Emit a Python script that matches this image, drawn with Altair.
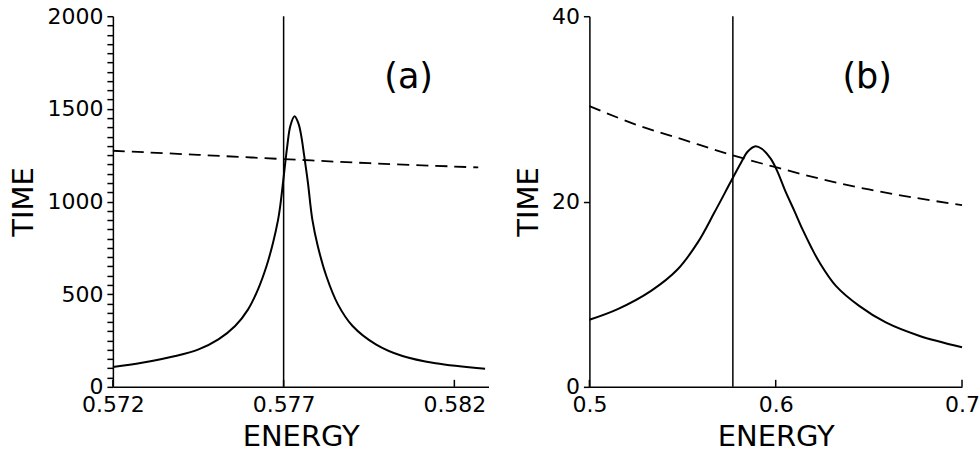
import altair as alt
import pandas as pd

# ---- Panel (a): narrow energy window around the resonance ----
energy_a_solid = [0.5720, 0.57285, 0.57383, 0.57451, 0.57509, 0.57558, 0.57596,
                  0.57625, 0.57650, 0.57669, 0.57684, 0.57690, 0.57700, 0.57710,
                  0.57720, 0.57732, 0.57744, 0.57752, 0.57760, 0.57771, 0.57784,
                  0.57800, 0.57825, 0.57859, 0.57902, 0.57970, 0.58048, 0.58145,
                  0.58290]
time_a_solid = [107, 130, 166, 202, 256, 328, 418,
                526, 652, 778, 904, 975, 1130, 1290,
                1410, 1460, 1418, 1350, 1250, 1104, 904,
                760, 598, 445, 328, 229, 166, 127,
                98]

energy_a_dash = [0.5720, 0.5745, 0.5770, 0.5795, 0.5827]
time_a_dash = [1274, 1252, 1229, 1207, 1184]

# ---- Panel (b): wide energy window ----
energy_b_solid = [0.5000, 0.5152, 0.5331, 0.5474, 0.5581, 0.5670, 0.5760,
                  0.5813, 0.5850, 0.5888, 0.5925, 0.5974, 0.6010, 0.6050,
                  0.6100, 0.6144, 0.6190, 0.6233, 0.6323, 0.6448, 0.6591,
                  0.6769, 0.7000]
time_b_solid = [7.24, 8.39, 10.36, 12.69, 15.56, 18.78, 22.18,
                24.16, 25.4, 25.95, 25.7, 24.6, 23.2, 21.2,
                19.0, 16.99, 15.1, 13.5, 10.9, 8.74, 6.95,
                5.52, 4.27]

energy_b_dash = [0.500, 0.525, 0.550, 0.575, 0.600, 0.625, 0.650, 0.675, 0.700]
time_b_dash = [30.3, 28.3, 26.7, 25.1, 23.7, 22.4, 21.3, 20.4, 19.6]

# Resonance energy marked by the vertical line
resonance_energy = [0.577]

# Axis ticks
x_ticks_a = [0.572, 0.577, 0.582]
y_ticks_a = list(range(0, 2001, 50))
x_ticks_b = [0.5, 0.6, 0.7]
y_ticks_b = [0, 20, 40]

FONT = "DejaVu Sans"
W_A, W_B, H = 376, 373, 371


def panel(e_solid, t_solid, e_dash, t_dash, x_dom, y_dom, x_ticks, y_ticks,
          x_fmt, y_label_expr, label, label_x, width):
    x_scale = alt.Scale(domain=x_dom, nice=False, zero=False)
    y_scale = alt.Scale(domain=y_dom, nice=False, zero=False)
    x_axis = alt.Axis(values=x_ticks, format=x_fmt, ticks=False, labelPadding=8,
                      labelFlush=False, title="ENERGY", titlePadding=7)
    y_axis = alt.Axis(values=y_ticks, format="d", tickSize=6, labelPadding=4,
                      labelExpr=y_label_expr, labelOverlap=False,
                      labelFlush=False, title="TIME", titlePadding=8)
    x_enc = alt.X("E:Q", scale=x_scale, axis=x_axis)
    y_enc = alt.Y("T:Q", scale=y_scale, axis=y_axis)

    solid = alt.Chart(pd.DataFrame({"E": e_solid, "T": t_solid})).mark_line(
        color="black", strokeWidth=2, interpolate="catmull-rom"
    ).encode(x=x_enc, y=y_enc)

    dashed = alt.Chart(pd.DataFrame({"E": e_dash, "T": t_dash})).mark_line(
        color="black", strokeWidth=1.8, strokeDash=[12, 7], interpolate="catmull-rom"
    ).encode(x=x_enc, y=y_enc)

    vline = alt.Chart(pd.DataFrame({"E": resonance_energy})).mark_rule(
        color="black", strokeWidth=1.5
    ).encode(x=x_enc)

    # inward tick marks on the energy axis
    xticks = alt.Chart(pd.DataFrame({"E": x_ticks})).mark_rule(
        color="black", strokeWidth=1.5
    ).encode(x=x_enc, y=alt.value(H), y2=alt.value(H - 7))

    tag = alt.Chart(pd.DataFrame({"t": [label]})).mark_text(
        font=FONT, fontSize=35, color="black"
    ).encode(text="t:N", x=alt.value(label_x), y=alt.value(61))

    return alt.layer(solid, dashed, vline, xticks, tag).properties(
        width=width, height=H)


panel_a = panel(energy_a_solid, time_a_solid, energy_a_dash, time_a_dash,
                [0.572, 0.583], [0, 2000], x_ticks_a, y_ticks_a, ".3f",
                "datum.value % 500 === 0 ? datum.label : ''", "(a)", 296, W_A)
panel_b = panel(energy_b_solid, time_b_solid, energy_b_dash, time_b_dash,
                [0.5, 0.7], [0, 40], x_ticks_b, y_ticks_b, ".1f",
                "datum.label", "(b)", 278, W_B)

chart = alt.hconcat(panel_a, panel_b, spacing=25).properties(
    padding={"left": 10, "top": 5, "right": 0, "bottom": 0},
    background="white",
).configure_view(stroke=None).configure_axis(
    grid=False, domainColor="black", domainWidth=1.5, tickColor="black",
    tickWidth=1.5, labelColor="black", titleColor="black", labelFont=FONT,
    labelFontSize=22, titleFont=FONT, titleFontSize=29, titleFontWeight="normal"
)

chart.save("out.html", embed_options={"renderer": "svg", "actions": False})
